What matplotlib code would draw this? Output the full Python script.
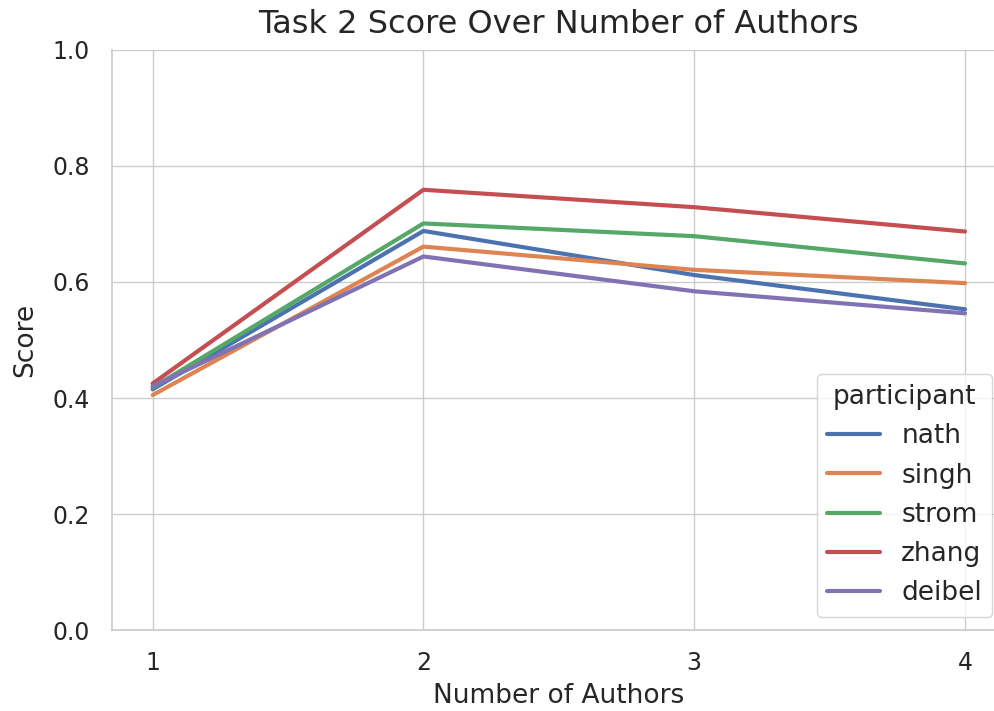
import numpy as np
import pandas as pd
import matplotlib.pyplot as plt
import seaborn as sns

n_authors = [1, 2, 3, 4]
participants = ['nath', 'singh', 'strom', 'zhang', 'deibel']
nath = [0.415, 0.688, 0.612, 0.553]
singh = [0.405, 0.661, 0.621, 0.598]
strom = [0.418, 0.701, 0.679, 0.632]
zhang = [0.425, 0.759, 0.729, 0.687]
deibel = [0.420, 0.644, 0.584, 0.546]

scores = [nath, singh, strom, zhang, deibel]
rows = []
for p, s in zip(participants, scores):
    for n, v in zip(n_authors, s):
        rows.append({'participant': p, 'Number of Authors': n, 'Score': v})
df = pd.DataFrame(rows)

sns.set_theme(style='whitegrid')
plt.rcParams['font.family'] = ['DejaVu Sans']

fig = plt.figure(figsize=(9.94, 7.11), dpi=100)
ax = fig.add_axes([0.1127, 0.1139, 0.899, 0.8158])
sns.lineplot(data=df, x='Number of Authors', y='Score', hue='participant',
             linewidth=3, ax=ax)
ax.set_ylim(0, 1)
ax.set_xticks(n_authors)
ax.tick_params(axis='y', labelsize=17, pad=10)
ax.tick_params(axis='x', labelsize=17, pad=9)
ax.set_xlabel('Number of Authors', fontsize=19, labelpad=6)
ax.set_ylabel('Score', fontsize=19, labelpad=10)
ax.set_title('Task 2 Score Over Number of Authors', fontsize=23, pad=12)
sns.despine(ax=ax)
leg = ax.legend(title='participant', loc='lower right', fontsize=19,
                title_fontsize=19)
fig.savefig('out.png', dpi=100)
